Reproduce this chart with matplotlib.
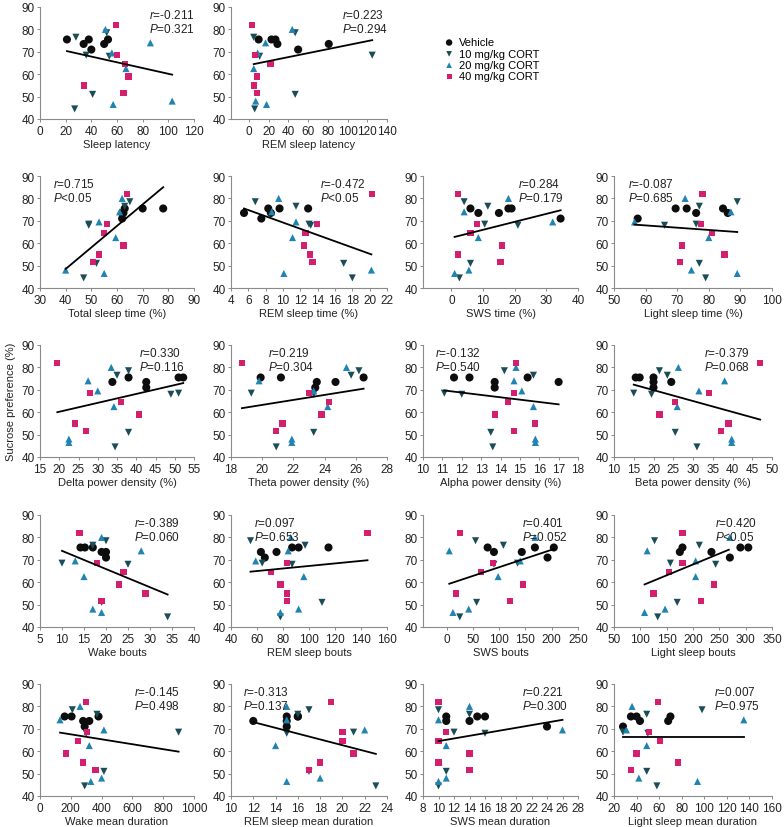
import matplotlib
matplotlib.use("Agg")
import matplotlib.pyplot as plt
import numpy as np

plt.rcParams["font.family"] = ["Liberation Sans", "DejaVu Sans"]
plt.rcParams["mathtext.fontset"] = "custom"
plt.rcParams["mathtext.it"] = "Liberation Sans:italic"
plt.rcParams["mathtext.rm"] = "Liberation Sans"

groups = ["Vehicle", "10 mg/kg CORT", "20 mg/kg CORT", "40 mg/kg CORT"]

# sucrose preference (%) of each animal, same order in every panel
veh_y = [75.5, 75.5, 75.5, 73.5, 73.5, 71]
c10_y = [78.5, 76.5, 68.5, 68, 51, 44.5]
c20_y = [80, 74, 69.5, 62.5, 48, 46.5]
c40_y = [82, 68.5, 64.5, 59, 55, 51.5]
group_y = [veh_y, c10_y, c20_y, c40_y]

# x values per panel: [vehicle, 10 mg/kg, 20 mg/kg, 40 mg/kg]
sleep_latency = [[21, 38, 53, 34, 50, 40], [52, 28, 36, 54, 41, 27],
                 [51, 86, 56, 67, 103, 57], [59, 60, 66, 69, 34, 65]]
rem_latency = [[10, 23, 27, 29, 81, 50], [47, 5, 125, 11, 47, 6],
               [44, 17, 9, 5, 7, 18], [3, 6, 22, 8, 5, 8]]
total_sleep = [[70, 78, 63, 62, 62.5, 62], [65, 63, 49, 49, 52, 47],
               [62, 61, 53, 59.5, 40, 55], [64, 56, 55, 62.5, 53, 50.5]]
rem_time = [[8.3, 9.6, 12.9, 5.5, 8.6, 7.5], [6.8, 11.5, 13, 13.2, 17, 18],
            [9.5, 8.7, 11.5, 11.1, 20.2, 10.1], [20.3, 13.9, 12.6, 12.4, 13.1, 13.4]]
sws_time = [[6, 18, 19, 8.5, 15, 34.5], [4, 11.5, 10.5, 21, 6, 2.5],
            [18, 4, 32, 8.5, 5.5, 1], [2, 8, 6, 16, 2, 15.5]]
light_time = [[69.5, 73, 84.5, 76, 86, 57.5], [89, 77, 76, 66, 77, 79],
              [72.5, 87, 56.5, 80, 74.5, 89], [78, 77.5, 81, 71.5, 85, 71]]
delta_power = [[38, 51, 52.2, 33.8, 42.6, 42.6], [38, 35, 51, 49, 38, 34.5],
               [33.5, 27.5, 30, 34.2, 22.5, 22.5], [19.5, 28, 36, 40.8, 24, 27]]
theta_power = [[19.9, 21.2, 26.5, 23.5, 24.7, 23.4], [26.2, 25.7, 19.3, 23.3, 23.3, 20.9],
               [25.4, 19.8, 23.3, 24.2, 21.9, 21.9], [18.7, 23, 24.3, 23.8, 21.3, 20.9]]
alpha_power = [[11.6, 12.4, 15.4, 13.7, 17, 13.7], [14.2, 15.7, 11.1, 12, 13.5, 13.6],
               [14.8, 14.7, 15.1, 15.7, 15.8, 15.8], [14.8, 14.7, 14.4, 13.7, 15.8, 14.7]]
beta_power = [[15.5, 16.5, 20, 20, 24.5, 20], [21.5, 23.5, 15, 19.5, 25.5, 31],
              [26.3, 38, 31.5, 26, 39.8, 39.8], [47, 34, 25.5, 21.5, 39, 37]]
wake_bouts = [[14.2, 15.2, 17, 19, 20, 20], [20, 17, 10, 25, 19, 34],
              [19, 28, 13, 15, 17, 19], [14, 18, 24, 23, 29, 19]]
rem_bouts = [[87, 92, 115, 63, 75, 66], [55, 97, 64, 87, 110, 78],
             [86, 84, 59, 96, 92, 78], [145, 83, 71, 78, 83, 83]]
sws_bouts = [[78, 168, 204, 90, 143, 192], [55, 108, 135, 90, 57, 25],
             [168, 5, 140, 98, 42, 12], [25, 88, 65, 146, 18, 120]]
light_bouts = [[180, 290, 305, 175, 235, 270], [127, 212, 157, 243, 170, 133],
               [270, 113, 205, 205, 147, 108], [180, 180, 155, 240, 125, 215]]
wake_dur = [[160, 205, 380, 280, 320, 290], [210, 370, 900, 300, 415, 290],
            [260, 130, 415, 320, 400, 330], [300, 305, 245, 170, 280, 360]]
rem_dur = [[15, 16, 16, 12, 15, 15], [17, 16, 21, 15, 17, 23],
           [15, 15, 22, 14, 18, 15], [19, 20, 20, 21, 18, 17]]
sws_dur = [[11, 15, 16, 11, 14, 24], [10, 14, 12, 16, 11, 10],
           [14, 10, 26, 11, 11, 10], [10, 11, 10, 14, 10, 14]]
light_dur = [[35, 40, 70, 43, 68, 28], [98, 49, 28, 50, 49, 58],
             [36, 135, 31, 49, 42, 94], [59, 51, 61, 40, 77, 35]]

# regression line end points (x0, x1, y0, y1)
fit_lines = [
    (21, 103, 70.3, 59.8), (5, 125, 64.5, 75.2),
    (40, 78, 48.5, 85), (5.5, 20.2, 75.5, 55), (1, 34.5, 62.8, 74.7), (56.5, 89, 68.3, 65),
    (19.5, 52.2, 60, 73), (18.7, 26.5, 61.8, 70.5), (11.1, 17, 69.7, 63.5), (15, 47, 72.3, 56.7),
    (10, 34, 74, 54.5), (55, 145, 64.7, 69.8), (5, 204, 59.3, 74.8), (108, 268, 59, 74.5),
    (130, 900, 68.3, 59.8), (12, 23, 73, 58.8), (10, 26, 64.5, 74), (28, 135, 66.5, 66.5),
]
r_values = ["-0.211", "0.223", "0.715", "-0.472", "0.284", "-0.087",
            "0.330", "0.219", "-0.132", "-0.379", "-0.389", "0.097",
            "0.401", "0.420", "-0.145", "-0.313", "0.221", "0.007"]
p_values = ["=0.321", "=0.294", "<0.05", "<0.05", "=0.179", "=0.685",
            "=0.116", "=0.304", "=0.540", "=0.068", "=0.060", "=0.653",
            "=0.052", "<0.05", "=0.498", "=0.137", "=0.300", "=0.975"]
x_labels = ["Sleep latency", "REM sleep latency",
            "Total sleep time (%)", "REM sleep time (%)", "SWS time (%)", "Light sleep time (%)",
            "Delta power density (%)", "Theta power density (%)",
            "Alpha power density (%)", "Beta power density (%)",
            "Wake bouts", "REM sleep bouts", "SWS bouts", "Light sleep bouts",
            "Wake mean duration", "REM sleep mean duration",
            "SWS mean duration", "Light sleep mean duration"]
x_data = [sleep_latency, rem_latency, total_sleep, rem_time, sws_time, light_time,
          delta_power, theta_power, alpha_power, beta_power,
          wake_bouts, rem_bouts, sws_bouts, light_bouts,
          wake_dur, rem_dur, sws_dur, light_dur]

# layout: (row, col, xlim, tick start/stop/step, text x in axes fraction)
layout = [
    (0, 0, (0, 120), (0, 120, 20), 0.71), (0, 1, (-18, 140), (0, 140, 20), 0.71),
    (1, 0, (30, 90), (30, 90, 10), 0.085), (1, 1, (4, 22), (4, 22, 2), 0.57),
    (1, 2, (-9, 40), (0, 40, 10), 0.61), (1, 3, (50, 100), (50, 100, 10), 0.09),
    (2, 0, (15, 55), (15, 55, 5), 0.64), (2, 1, (18, 28), (18, 28, 2), 0.24),
    (2, 2, (10, 18), (10, 18, 1), 0.08), (2, 3, (10, 50), (10, 50, 5), 0.57),
    (3, 0, (5, 40), (5, 40, 5), 0.61), (3, 1, (40, 160), (40, 160, 20), 0.15),
    (3, 2, (-45, 250), (0, 250, 50), 0.64), (3, 3, (50, 350), (50, 350, 50), 0.64),
    (4, 0, (0, 1000), (0, 1000, 200), 0.61), (4, 1, (10, 24), (10, 24, 2), 0.08),
    (4, 2, (8, 28), (8, 28, 2), 0.64), (4, 3, (20, 160), (20, 160, 20), 0.63),
]

colors = ["#0d0d0d", "#1b4d58", "#1f84b2", "#d31f6e"]
markers = ["o", "v", "^", "s"]
sizes = [34, 26, 26, 20]

W, H = 784, 828
col_left = [40, 231, 423, 614]
col_width = [154, 156, 155, 158]
row_top = [8, 177, 346, 516, 685]
ax_h = 112

fig = plt.figure(figsize=(W / 100, H / 100), dpi=100)
handles = []
for i, (row, col, xlim, tk, tx) in enumerate(layout):
    rect = [col_left[col] / W, 1 - (row_top[row] + ax_h) / H, col_width[col] / W, ax_h / H]
    ax = fig.add_axes(rect)
    for g in range(4):
        h = ax.scatter(x_data[i][g], group_y[g], marker=markers[g], s=sizes[g],
                       color=colors[g], edgecolors="none", zorder=3)
        if i == 0:
            handles.append(h)
    x0, x1, y0, y1 = fit_lines[i]
    ax.plot([x0, x1], [y0, y1], color="black", lw=1.3, zorder=4)
    ax.set_xlim(*xlim)
    ax.set_ylim(40, 90)
    ax.set_xticks(np.arange(tk[0], tk[1] + tk[2] / 2, tk[2]))
    ax.set_yticks(np.arange(40, 91, 10))
    for s in ["top", "right"]:
        ax.spines[s].set_visible(False)
    for s in ["left", "bottom"]:
        ax.spines[s].set_color("#8a8a8a")
        ax.spines[s].set_linewidth(0.8)
    ax.tick_params(length=2.5, width=0.7, color="#8a8a8a", labelsize=8.5,
                   labelcolor="#222222", pad=1.5)
    ax.set_xlabel(x_labels[i], fontsize=8, color="#222222", labelpad=2)
    ax.text(tx, 0.99, "$r$=" + r_values[i] + "\n$P$" + p_values[i],
            transform=ax.transAxes, ha="left", va="top", fontsize=8.5,
            color="#222222", linespacing=1.1)
    if row == 2 and col == 0:
        ax.set_ylabel("Sucrose preference (%)", fontsize=8, color="#222222", labelpad=4)

fig.legend(handles, groups, loc="upper left", bbox_to_anchor=(438 / W, 1 - 34 / H),
           frameon=False, fontsize=8, handletextpad=0.3, labelspacing=0.12,
           borderaxespad=0, handlelength=1.2, markerscale=0.8)

fig.savefig("out.png", dpi=100)
